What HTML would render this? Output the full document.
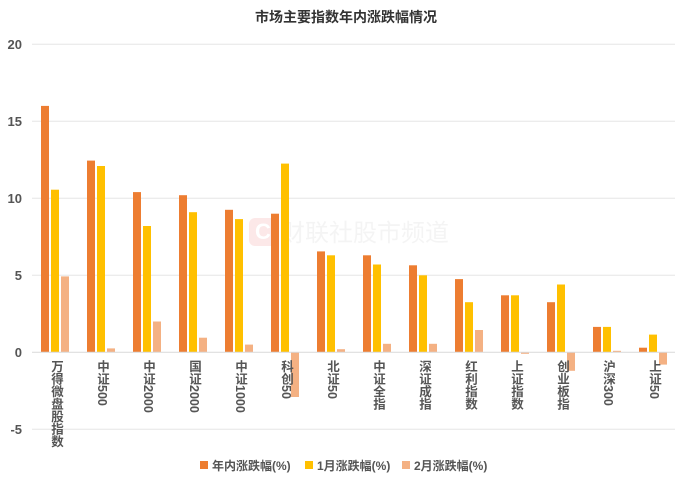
<!DOCTYPE html>
<html><head><meta charset="utf-8"><style>
body{margin:0;background:#fff;}
.w{position:relative;width:692px;height:486px;overflow:hidden;}
svg{position:absolute;left:0;top:0;}
svg text{font-family:"Liberation Sans","Noto Sans CJK SC",sans-serif;}
.l{position:absolute;top:360px;width:15px;writing-mode:vertical-rl;text-orientation:mixed;font:bold 12.5px/15px "Liberation Sans","Noto Sans CJK SC",sans-serif;color:#555;}
</style></head><body><div class="w">
<svg width="692" height="486" viewBox="0 0 692 486" xmlns="http://www.w3.org/2000/svg">
<text x="346" y="22" text-anchor="middle" font-size="14" font-weight="bold" fill="#333">市场主要指数年内涨跌幅情况</text>
<g stroke="#e6e6e6" stroke-width="1">
<line x1="32" x2="675" y1="44.3" y2="44.3"/>
<line x1="32" x2="675" y1="121.3" y2="121.3"/>
<line x1="32" x2="675" y1="198.3" y2="198.3"/>
<line x1="32" x2="675" y1="275.3" y2="275.3"/>
<line x1="32" x2="675" y1="429.3" y2="429.3"/>
</g>
<g font-size="13" font-weight="bold" fill="#555" text-anchor="end">
<text x="22" y="49">20</text><text x="22" y="126">15</text><text x="22" y="203">10</text><text x="22" y="280">5</text><text x="22" y="357">0</text><text x="22" y="434">-5</text>
</g>
<g opacity="0.3">
<rect x="249" y="218" width="28" height="28" rx="6" fill="#f7b5b5"/>
<text x="263" y="239" text-anchor="middle" font-size="22" font-weight="bold" fill="#fff">C</text>
<text x="281" y="241" font-size="24" fill="#ddd">财联社股市频道</text>
</g>
<g>
<rect x="41" y="105.9" width="8" height="246.4" fill="#ED7D31"/><rect x="51" y="189.7" width="8" height="162.6" fill="#FFC000"/><rect x="61" y="276.4" width="8" height="75.9" fill="#F4B183"/>
<rect x="87" y="160.6" width="8" height="191.7" fill="#ED7D31"/><rect x="97" y="166" width="8" height="186.3" fill="#FFC000"/><rect x="107" y="348.4" width="8" height="3.9" fill="#F4B183"/>
<rect x="133" y="192.1" width="8" height="160.2" fill="#ED7D31"/><rect x="143" y="226" width="8" height="126.3" fill="#FFC000"/><rect x="153" y="321.5" width="8" height="30.8" fill="#F4B183"/>
<rect x="179" y="195.2" width="8" height="157.1" fill="#ED7D31"/><rect x="189" y="212.2" width="8" height="140.1" fill="#FFC000"/><rect x="199" y="337.7" width="8" height="14.6" fill="#F4B183"/>
<rect x="225" y="209.8" width="8" height="142.5" fill="#ED7D31"/><rect x="235" y="219.1" width="8" height="133.2" fill="#FFC000"/><rect x="245" y="344.6" width="8" height="7.7" fill="#F4B183"/>
<rect x="271" y="213.7" width="8" height="138.6" fill="#ED7D31"/><rect x="281" y="163.6" width="8" height="188.7" fill="#FFC000"/><rect x="291" y="352.3" width="8" height="44.7" fill="#F4B183"/>
<rect x="317" y="251.4" width="8" height="100.9" fill="#ED7D31"/><rect x="327" y="255.3" width="8" height="97" fill="#FFC000"/><rect x="337" y="349.2" width="8" height="3.1" fill="#F4B183"/>
<rect x="363" y="255.3" width="8" height="97" fill="#ED7D31"/><rect x="373" y="264.5" width="8" height="87.8" fill="#FFC000"/><rect x="383" y="343.8" width="8" height="8.5" fill="#F4B183"/>
<rect x="409" y="265.3" width="8" height="87" fill="#ED7D31"/><rect x="419" y="275.3" width="8" height="77" fill="#FFC000"/><rect x="429" y="343.8" width="8" height="8.5" fill="#F4B183"/>
<rect x="455" y="279.1" width="8" height="73.2" fill="#ED7D31"/><rect x="465" y="302.2" width="8" height="50.1" fill="#FFC000"/><rect x="475" y="330" width="8" height="22.3" fill="#F4B183"/>
<rect x="501" y="295.3" width="8" height="57" fill="#ED7D31"/><rect x="511" y="295.3" width="8" height="57" fill="#FFC000"/><rect x="521" y="352.3" width="8" height="1.5" fill="#F4B183"/>
<rect x="547" y="302.2" width="8" height="50.1" fill="#ED7D31"/><rect x="557" y="284.5" width="8" height="67.8" fill="#FFC000"/><rect x="567" y="352.3" width="8" height="18.5" fill="#F4B183"/>
<rect x="593" y="326.9" width="8" height="25.4" fill="#ED7D31"/><rect x="603" y="326.9" width="8" height="25.4" fill="#FFC000"/><rect x="613" y="350.8" width="8" height="1.5" fill="#F4B183"/>
<rect x="639" y="347.7" width="8" height="4.6" fill="#ED7D31"/><rect x="649" y="334.6" width="8" height="17.7" fill="#FFC000"/><rect x="659" y="352.3" width="8" height="12.3" fill="#F4B183"/>
</g>
<line x1="32" x2="675" y1="352.3" y2="352.3" stroke="#d9d9d9" stroke-width="1"/>
<g font-size="12" font-weight="bold" fill="#555">
<rect x="200" y="461" width="8" height="8" fill="#ED7D31"/><text x="212" y="470">年内涨跌幅(%)</text>
<rect x="305" y="461" width="8" height="8" fill="#FFC000"/><text x="317" y="470">1月涨跌幅(%)</text>
<rect x="402" y="461" width="8" height="8" fill="#F4B183"/><text x="414" y="470">2月涨跌幅(%)</text>
</g>
</svg>
<div class="l" style="left:48px">万得微盘股指数</div>
<div class="l" style="left:94px">中证500</div>
<div class="l" style="left:140px">中证2000</div>
<div class="l" style="left:186px">国证2000</div>
<div class="l" style="left:232px">中证1000</div>
<div class="l" style="left:278px">科创50</div>
<div class="l" style="left:324px">北证50</div>
<div class="l" style="left:370px">中证全指</div>
<div class="l" style="left:416px">深证成指</div>
<div class="l" style="left:462px">红利指数</div>
<div class="l" style="left:508px">上证指数</div>
<div class="l" style="left:554px">创业板指</div>
<div class="l" style="left:600px">沪深300</div>
<div class="l" style="left:646px">上证50</div>
</div></body></html>
